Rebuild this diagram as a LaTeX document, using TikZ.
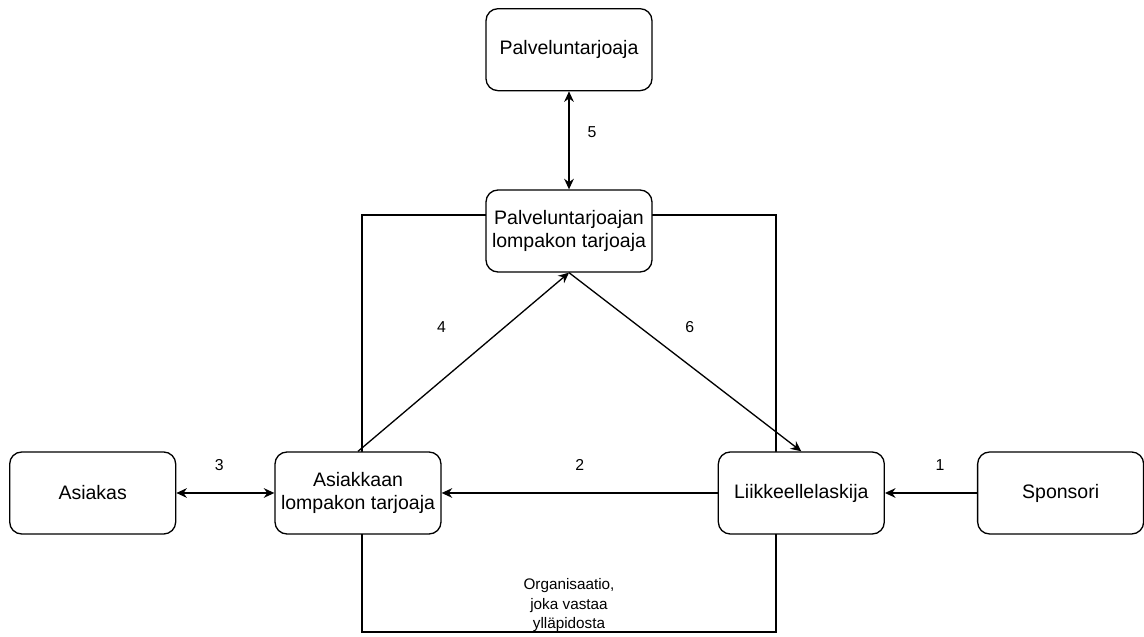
\documentclass[tikz,border=0pt]{standalone}
\usepackage{fontspec}
\setmainfont{Liberation Sans}
\usetikzlibrary{arrows.meta,positioning}

\begin{document}
\begin{tikzpicture}[
  node distance=1.96cm,
  actor/.style={rectangle, draw, rounded corners=0.24cm, fill=white, line width=0.75pt,
    minimum height=1.64cm, minimum width=3.32cm, align=center,
    font=\fontsize{11.1}{13}\selectfont},
  arr/.style={-{Stealth[length=6pt,width=5.5pt]}, line width=0.75pt},
  biarr/.style={{Stealth[length=6pt,width=5.5pt]}-{Stealth[length=6pt,width=5.5pt]}, line width=0.75pt},
  num/.style={font=\fontsize{9}{11}\selectfont}
]
  \useasboundingbox (0,0) rectangle (22.88,-12.74);
  % organisation frame behind the boxes
  \node[draw, line width=0.75pt, minimum width=8.28cm, minimum height=8.34cm,
    inner sep=0pt] (org) at (11.38,-8.47) {};
  \node[font=\fontsize{8.7}{11}\selectfont, align=center, anchor=base]
    (orglabel) at ([yshift=0.08cm]org.south) {Organisaatio,\\joka vastaa\\ylläpidosta};
  %
  \node[actor] (ALT) at (7.16,-9.86) {Asiakkaan\\lompakon tarjoaja};
  \node[actor, left=of ALT] (Asiakas) {Asiakas};
  \node[actor, right=5.52cm of ALT] (Liik) {Liikkeellelaskija};
  \node[actor, right=1.84cm of Liik] (Sponsori) {Sponsori};
  \node[actor] (PLT) at (11.38,-4.62) {Palveluntarjoajan\\lompakon tarjoaja};
  \node[actor, above=of PLT] (PT) {Palveluntarjoaja};
  %
  \draw[biarr] (PT) -- node[num, xshift=0.46cm, yshift=0.16cm] {5} (PLT);
  \draw[arr] (ALT.north) -- node[num, xshift=-0.44cm, yshift=0.7cm] {4} (PLT.south);
  \draw[arr] (PLT.south) -- node[num, xshift=0.09cm, yshift=0.7cm] {6} (Liik.north);
  \draw[biarr] (Asiakas) -- node[num, above=0.32cm, xshift=-0.12cm] {3} (ALT);
  \draw[arr] (Liik) -- node[num, above=0.32cm] {2} (ALT);
  \draw[arr] (Sponsori) -- node[num, above=0.32cm, xshift=0.18cm] {1} (Liik);
\end{tikzpicture}
\end{document}
